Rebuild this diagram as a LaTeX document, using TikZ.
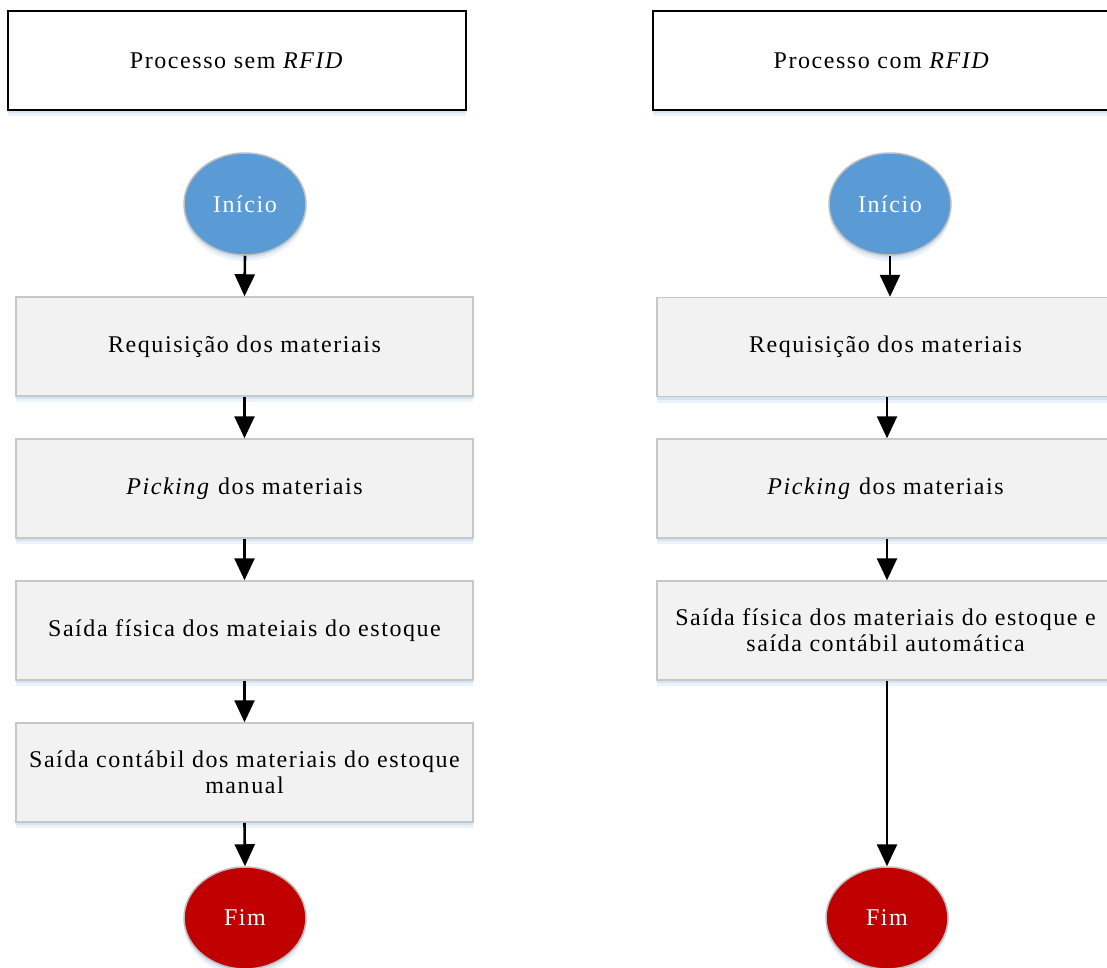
\documentclass[tikz,border=0pt]{standalone}
\usepackage{fontspec}
\setmainfont{Liberation Serif}[LetterSpace=6.5]
\usetikzlibrary{arrows.meta,shadows,shapes.geometric}
\definecolor{shadowblue}{RGB}{200,218,238}
\definecolor{startblue}{RGB}{91,155,213}
\definecolor{endred}{RGB}{192,0,0}
\tikzset{
  base/.style={font=\fontsize{24}{26}\selectfont, align=center, inner sep=0pt},
  soft/.style={
    drop shadow={shadow xshift=0pt, shadow yshift=-6pt, fill=shadowblue, opacity=0.35},
    drop shadow={shadow xshift=0pt, shadow yshift=-3pt, fill=shadowblue, opacity=0.6}},
  titlebox/.style={base, draw=black, line width=1.5pt, fill=white, minimum width=458pt, minimum height=99pt, soft},
  stepbox/.style={base, draw=black!22, line width=1.5pt, fill=black!5, minimum width=457pt, minimum height=99pt, soft},
  startnode/.style={base, ellipse, draw=black!25, line width=1.5pt, fill=startblue, text=white, minimum width=122pt, minimum height=102pt, soft},
  endnode/.style={base, ellipse, draw=black!25, line width=1.5pt, fill=endred, text=white, minimum width=122pt, minimum height=102pt, soft},
  flow/.style={line width=2.6pt, -{Triangle[width=20pt,length=22pt]}},
}
\begin{document}
\begin{tikzpicture}[x=1pt,y=-1pt]
  \clip (0,0) rectangle (1107,967);
  \fill[white] (0,0) rectangle (1107,967);

  % left column: without RFID
  \node[titlebox] (tL) at (237,60.5) {Processo sem \textit{RFID}};
  \node[startnode] (iL) at (245,204) {Início};
  \node[stepbox] (a1) at (244.5,346.5) {Requisição dos materiais};
  \node[stepbox] (a2) at (244.5,488.5) {\textit{Picking} dos materiais};
  \node[stepbox] (a3) at (244.5,630.5) {Saída física dos mateiais do estoque};
  \node[stepbox] (a4) at (244.5,772.5) {Saída contábil dos materiais do estoque\\manual};
  \node[endnode] (fL) at (245,918) {Fim};

  \draw[flow] (iL.south) -- (a1.north);
  \draw[flow] (a1.south) -- (a2.north);
  \draw[flow] (a2.south) -- (a3.north);
  \draw[flow] (a3.south) -- (a4.north);
  \draw[flow] (a4.south) -- (fL.north);

  % right column: with RFID
  \node[titlebox] (tR) at (882,60.5) {Processo com \textit{RFID}};
  \node[startnode] (iR) at (890,204) {Início};
  \node[stepbox] (b1) at (885.5,347) {Requisição dos materiais};
  \node[stepbox] (b2) at (885.5,488.5) {\textit{Picking} dos materiais};
  \node[stepbox] (b3) at (885.5,630.5) {Saída física dos materiais do estoque e\\saída contábil automática};
  \node[endnode] (fR) at (887,918) {Fim};

  \draw[flow] (iR.south) -- (iR.south |- b1.north);
  \draw[flow] (b1.south -| 887,0) -- (887,0 |- b2.north);
  \draw[flow] (b2.south -| 887,0) -- (887,0 |- b3.north);
  \draw[flow] (b3.south -| 887,0) -- (fR.north);
\end{tikzpicture}
\end{document}
